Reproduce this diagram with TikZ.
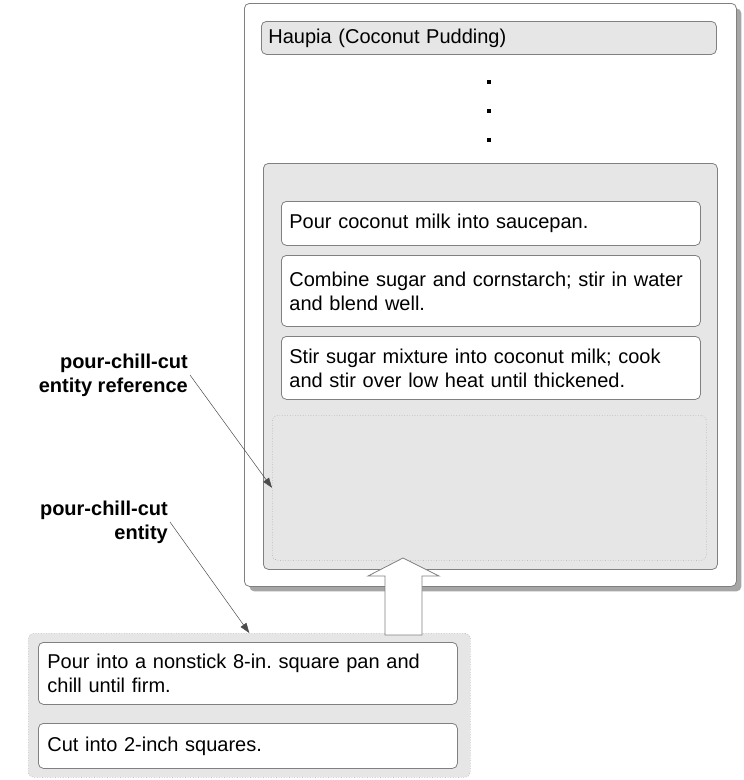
\documentclass[tikz,border=0pt]{standalone}
\usepackage{fontspec}
\setmainfont{Liberation Sans}
\frenchspacing
\usetikzlibrary{arrows.meta,shadows}

\definecolor{boxgray}{HTML}{E6E6E6}
\definecolor{linegray}{HTML}{808080}
\definecolor{dotgray}{HTML}{A8A8A8}
\definecolor{shadowgray}{HTML}{A6A6A6}

\tikzset{
    pagebox/.style={draw=linegray, fill=white, rounded corners=5pt, line width=0.8pt,
        drop shadow={shadow xshift=5pt, shadow yshift=-5pt, fill=shadowgray, opacity=1}},
    titlebar/.style={draw=linegray, fill=boxgray, rounded corners=5pt, line width=0.8pt,
        align=left, inner xsep=7pt, inner ysep=0pt},
    container/.style={draw=linegray, fill=boxgray, rounded corners=5pt, line width=0.8pt},
    slot/.style={draw=dotgray, dotted, fill=boxgray, rounded corners=5pt, line width=0.6pt},
    stepbox/.style={draw=linegray, fill=white, rounded corners=5pt, line width=0.8pt,
        align=left, inner xsep=8pt, inner ysep=0pt, text width=403pt},
    callout/.style={font=\fontsize{20}{24}\selectfont\bfseries, align=right, inner sep=2pt},
    pointer/.style={draw=black!70, line width=0.5pt, -{Triangle[length=10pt,width=7pt]}},
    hollow/.style={draw=linegray, fill=white, line width=0.8pt},
}

\begin{document}
\begin{tikzpicture}[x=1pt, y=-1pt, font=\fontsize{20}{24}\selectfont]
    \useasboundingbox (0,0) rectangle (744,780);

    % recipe page
    \node[pagebox, anchor=north west, minimum width=492pt, minimum height=583pt] (page) at (244,3) {};
    \node[titlebar, anchor=north west, minimum width=455pt, minimum height=33pt, text width=441pt] (title) at (261,21) {Haupia (Coconut Pudding)};
    \foreach \y in {82,111,140}
        \fill (487.3,\y-1.7) rectangle ++(3.4,3.4);

    % steps of the recipe
    \node[container, anchor=north west, minimum width=454pt, minimum height=406pt] (steps) at (263,163) {};
    \node[stepbox, anchor=north west, minimum height=44pt] (milk) at (281,201) {Pour coconut milk into saucepan.};
    \node[stepbox, anchor=north west, minimum height=71pt] (sugar) at (281,255) {Combine sugar and cornstarch; stir in water\\and blend well.};
    \node[stepbox, anchor=north west, minimum height=63pt] (cook) at (281,336) {Stir sugar mixture into coconut milk; cook\\and stir over low heat until thickened.};
    \node[slot, anchor=north west, minimum width=434pt, minimum height=145pt] (slot) at (272,415) {};

    % the entity
    \node[slot, anchor=north west, minimum width=442pt, minimum height=144pt] (entity) at (28,633) {};
    \node[stepbox, anchor=north west, minimum height=62pt, inner xsep=9pt, text width=401pt] (chill) at (38,642) {Pour into a nonstick 8-in. square pan and\\chill until firm.};
    \node[stepbox, anchor=north west, minimum height=45pt, inner xsep=9pt, text width=401pt] (cut) at (38,723) {Cut into 2-inch squares.};

    % hollow arrow from entity into the slot
    \coordinate (uptip) at (403,558);
    \coordinate (upfoot) at (entity.north -| uptip);
    \draw[hollow] (uptip) -- ++(36,18) -- ++(-17,0) -- ([xshift=19pt, yshift=-2pt]upfoot)
        -- ([xshift=-18pt, yshift=-2pt]upfoot) -- ++(0,-59) -- ++(-17,0) -- cycle;

    % labels
    \node[callout, anchor=east] (refnote) at (190,375) {pour-chill-cut\\entity reference};
    \node[callout, anchor=east] (entnote) at (170,522) {pour-chill-cut\\entity};

    \draw[pointer] (refnote.east) -- (slot.west);
    \draw[pointer] (entnote.east) -- (entity.north);
\end{tikzpicture}
\end{document}
